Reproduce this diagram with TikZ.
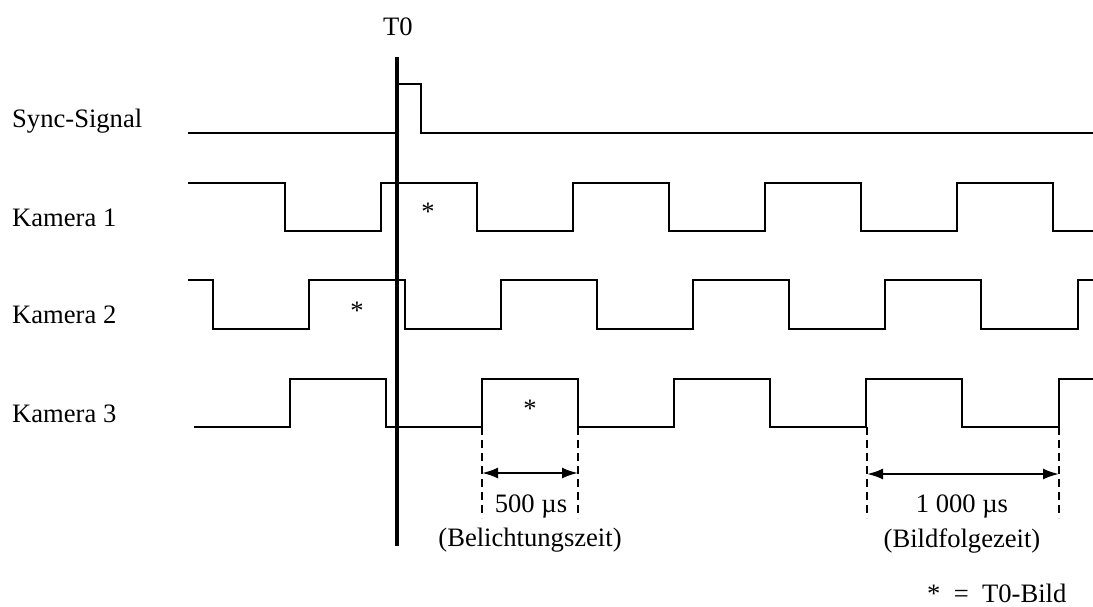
\documentclass[tikz,border=0pt]{standalone}
\usepackage{fontspec}
\setmainfont{Liberation Serif}
\usetikzlibrary{arrows.meta}
\begin{document}
\begin{tikzpicture}[x=1pt,y=-1pt,
  lbl/.style={inner sep=0pt,font=\fontsize{26.6}{30}\selectfont},
  sig/.style={line width=2pt,line join=miter},
  tzero/.style={line width=4.2pt},
  guide/.style={line width=2pt,dash pattern=on 8pt off 5pt},
  dim/.style={line width=2.2pt,{Latex[length=16pt,width=11pt]}-{Latex[length=16pt,width=11pt]}}]
\useasboundingbox (0,0) rectangle (1093,606);

% signal names
\node[lbl,anchor=base west] (lsync) at (12,127) {Sync-Signal};
\node[lbl,anchor=base west] (lk1) at (12,226) {Kamera 1};
\node[lbl,anchor=base west] (lk2) at (12,323) {Kamera 2};
\node[lbl,anchor=base west] (lk3) at (12,422) {Kamera 3};

% sync pulse
\draw[sig] (188,133) -- (397,133) -- (397,84) -- (421,84) -- (421,133) -- (1093,133);

% camera 1
\draw[sig] (188,183) -- (285,183) -- (285,231) -- (381,231) -- (381,183)
  -- (477,183) -- (477,231) -- (573,231) -- (573,183) -- (669,183) -- (669,231)
  -- (765,231) -- (765,183) -- (861,183) -- (861,231) -- (957,231) -- (957,183)
  -- (1053,183) -- (1053,231) -- (1093,231);

% camera 2
\draw[sig] (188,280) -- (213,280) -- (213,329) -- (309,329) -- (309,280)
  -- (405,280) -- (405,329) -- (501,329) -- (501,280) -- (597,280) -- (597,329)
  -- (693,329) -- (693,280) -- (789,280) -- (789,329) -- (885,329) -- (885,280)
  -- (981,280) -- (981,329) -- (1078,329) -- (1078,280) -- (1093,280);

% camera 3
\draw[sig] (194,427) -- (290,427) -- (290,379) -- (386,379) -- (386,427)
  -- (482,427) -- (482,379) -- (578,379) -- (578,427) -- (674,427) -- (674,379)
  -- (770,379) -- (770,427) -- (866,427) -- (866,379) -- (962,379) -- (962,427)
  -- (1059,427) -- (1059,379) -- (1093,379);

% trigger instant
\node[lbl,anchor=base] (t0) at (398,35) {T0};
\coordinate (t0top) at (397,57);
\coordinate (t0bot) at (397,546);
\draw[tzero] (t0top) -- (t0bot);

% frames taken at T0
\node[lbl] (s1) at (428,212) {*};
\node[lbl] (s2) at (357,311) {*};
\node[lbl] (s3) at (530,409) {*};

% exposure time
\coordinate (ea) at (482,427); \coordinate (eb) at (578,427);
\coordinate (ea2) at (482,518); \coordinate (eb2) at (578,518);
\draw[guide] (ea) -- (ea2);
\draw[guide] (eb) -- (eb2);
\draw[dim] (482,473) -- (578,473);
\node[lbl,anchor=base] (exp) at (531,512) {500 µs};
\node[lbl,anchor=base] (expn) at (530,546) {(Belichtungszeit)};

% frame period
\coordinate (fa) at (867,427); \coordinate (fb) at (1059,427);
\coordinate (fa2) at (867,518); \coordinate (fb2) at (1059,518);
\draw[guide] (fa) -- (fa2);
\draw[guide] (fb) -- (fb2);
\draw[dim] (867,474) -- (1059,474);
\node[lbl,anchor=base] (per) at (962,512) {1 000 µs};
\node[lbl,anchor=base] (pern) at (962,547) {(Bildfolgezeit)};

% legend
\node[lbl,anchor=base west] (leg) at (927,602) {*\ \ =\ \ T0-Bild};
\end{tikzpicture}
\end{document}
